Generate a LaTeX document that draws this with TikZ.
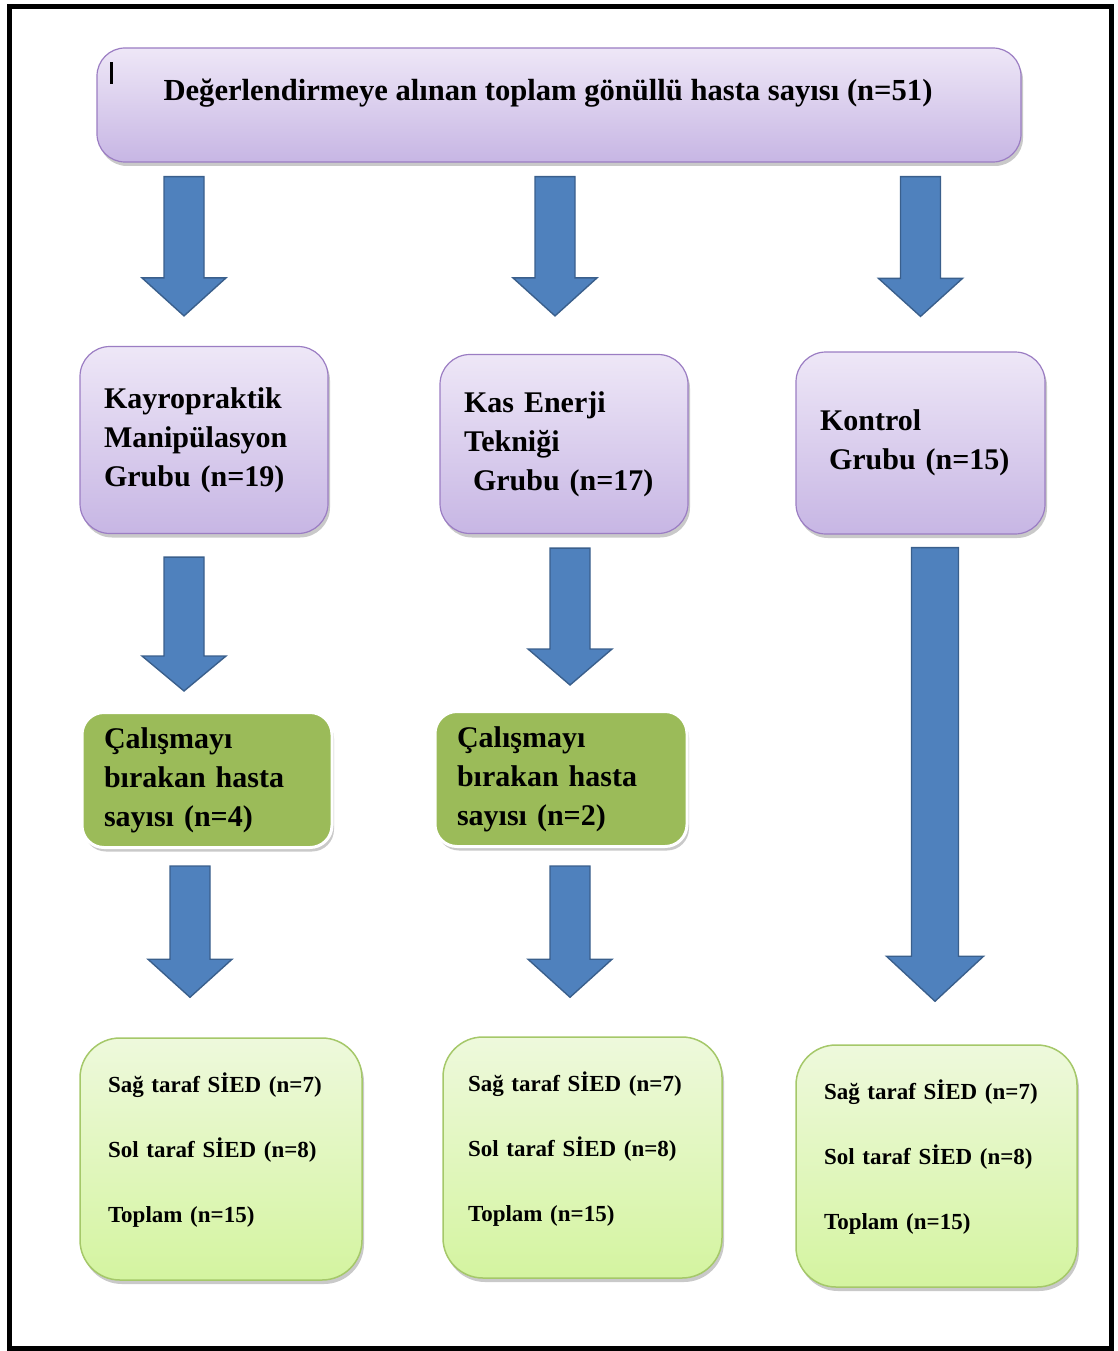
\documentclass[tikz,border=0pt]{standalone}
\usepackage{fontspec}
\setmainfont{Liberation Serif}
\usepackage{tikz}
\usetikzlibrary{calc}
\usetikzlibrary{shadows}
\definecolor{lavtop}{RGB}{238,231,247}
\definecolor{lavbot}{RGB}{199,182,228}
\definecolor{lavedge}{RGB}{155,125,195}
\definecolor{arrowblue}{RGB}{79,129,189}
\definecolor{arrowedge}{RGB}{58,95,140}
\definecolor{dropgreen}{RGB}{155,187,89}
\definecolor{restop}{RGB}{238,249,220}
\definecolor{resbot}{RGB}{212,244,160}
\definecolor{resedge}{RGB}{165,200,105}
\tikzset{softshadow/.style = {drop shadow = {shadow xshift = 2pt, shadow yshift = -4pt,
                                              opacity = 0.3, fill = black!70}},
         groupbox/.style = {rounded corners = 30pt, top color = lavtop, bottom color = lavbot,
                            draw = lavedge, line width = 1.2pt, softshadow, align = left,
                            inner xsep = 24pt, font = \fontsize{30}{39}\selectfont\bfseries},
         dropbox/.style = {rounded corners = 22pt, fill = dropgreen, draw = white,
                           line width = 3pt, softshadow, align = left, inner xsep = 22pt,
                           font = \fontsize{30}{39}\selectfont\bfseries},
         resultbox/.style = {rounded corners = 40pt, top color = restop, bottom color = resbot,
                             draw = resedge, line width = 1.5pt, softshadow, align = left,
                             inner xsep = 28pt, text depth = 152pt,
                             font = \fontsize{23}{65}\selectfont\bfseries},
         bigarrow/.style n args = {3}{draw = arrowedge, fill = arrowblue, line width = 1.4pt,
           to path = {let \p1 = (\tikztostart), \p2 = (\tikztotarget) in
             (\x2 - #1, \y1) -- (\x2 + #1, \y1) -- (\x2 + #1, \y2 + #3) -- (\x2 + #2, \y2 + #3)
             -- (\x2, \y2) -- (\x2 - #2, \y2 + #3) -- (\x2 - #1, \y2 + #3) -- cycle}},
         blockarrow/.style = {bigarrow = {20pt}{42pt}{38pt}}}
\begin{document}
\begin{tikzpicture}[x = 1pt, y = -1pt]
      \useasboundingbox (0, 0) rectangle (1117, 1351);
      \draw [line width = 5pt] (9.5, 7) rectangle (1111, 1348);

      % first step
      \node (top) [rounded corners = 28pt, top color = lavtop, bottom color = lavbot,
                   draw = lavedge, line width = 1.2pt, softshadow,
                   minimum width = 924, minimum height = 114,
                   text height = 22pt, text depth = 30pt,
                   font = \fontsize{30.6}{36}\selectfont\bfseries] at (559, 105)
        {Değerlendirmeye alınan toplam gönüllü hasta sayısı (n=51)\hspace*{22pt}};
      \draw [line width = 2.5pt] ([xshift = 15, yshift = -15]top.north west) -- ++(0, 22);

      % groups
      \node (kmg) [groupbox, minimum width = 248, minimum height = 187, text width = 200]
        at (204, 440) {Kayropraktik\\Manipülasyon\\Grubu (n=19)};
      \node (ket) [groupbox, minimum width = 248, minimum height = 179, text width = 200]
        at (564, 444) {Kas Enerji\\Tekniği\\\hspace*{9pt}Grubu (n=17)};
      \node (kon) [groupbox, minimum width = 249, minimum height = 182, text width = 201]
        at (920.5, 443) {Kontrol\\\hspace*{9pt}Grubu (n=15)};

      % drop outs
      \node (drop1) [dropbox, minimum width = 250, minimum height = 135, text width = 206]
        at (207, 780) {Çalışmayı\\bırakan hasta\\sayısı (n=4)};
      \node (drop2) [dropbox, minimum width = 252, minimum height = 135, text width = 208]
        at (561, 779) {Çalışmayı\\bırakan hasta\\sayısı (n=2)};

      % results
      \node (res1) [resultbox, minimum width = 282, minimum height = 242, text width = 226]
        at (221, 1159) {Sağ taraf SİED (n=7)\\Sol taraf SİED (n=8)\\Toplam (n=15)};
      \node (res2) [resultbox, minimum width = 279, minimum height = 241, text width = 229,
                    inner xsep = 25pt]
        at (582.5, 1157.5) {Sağ taraf SİED (n=7)\\Sol taraf SİED (n=8)\\Toplam (n=15)};
      \node (res3) [resultbox, minimum width = 281, minimum height = 242, text width = 225]
        at (936.5, 1166) {Sağ taraf SİED (n=7)\\Sol taraf SİED (n=8)\\Toplam (n=15)};

      \draw [blockarrow] ([yshift = -14]top.south) to ([xshift = -20, yshift = 30]kmg.north);
      \draw [blockarrow] ([yshift = -14]top.south) to ([xshift = -9, yshift = 38]ket.north);
      \draw [blockarrow] ([yshift = -14]top.south) to ([yshift = 35]kon.north);

      \draw [bigarrow = {20pt}{42pt}{35pt}] ([yshift = -23]kmg.south) to ([xshift = -23, yshift = 20]drop1.north);
      \draw [bigarrow = {20pt}{42pt}{36pt}] ([yshift = -14]ket.south) to ([xshift = 9, yshift = 25]drop2.north);
      \draw [bigarrow = {23.5pt}{48.5pt}{45pt}] ([yshift = -13]kon.south) to ([xshift = -1.5, yshift = 43]res3.north);

      \draw [blockarrow] ([yshift = -17]drop1.south) to ([xshift = -31, yshift = 40]res1.north);
      \draw [blockarrow] ([yshift = -18]drop2.south) to ([xshift = -12.5, yshift = 39]res2.north);

    \end{tikzpicture}
\end{document}
